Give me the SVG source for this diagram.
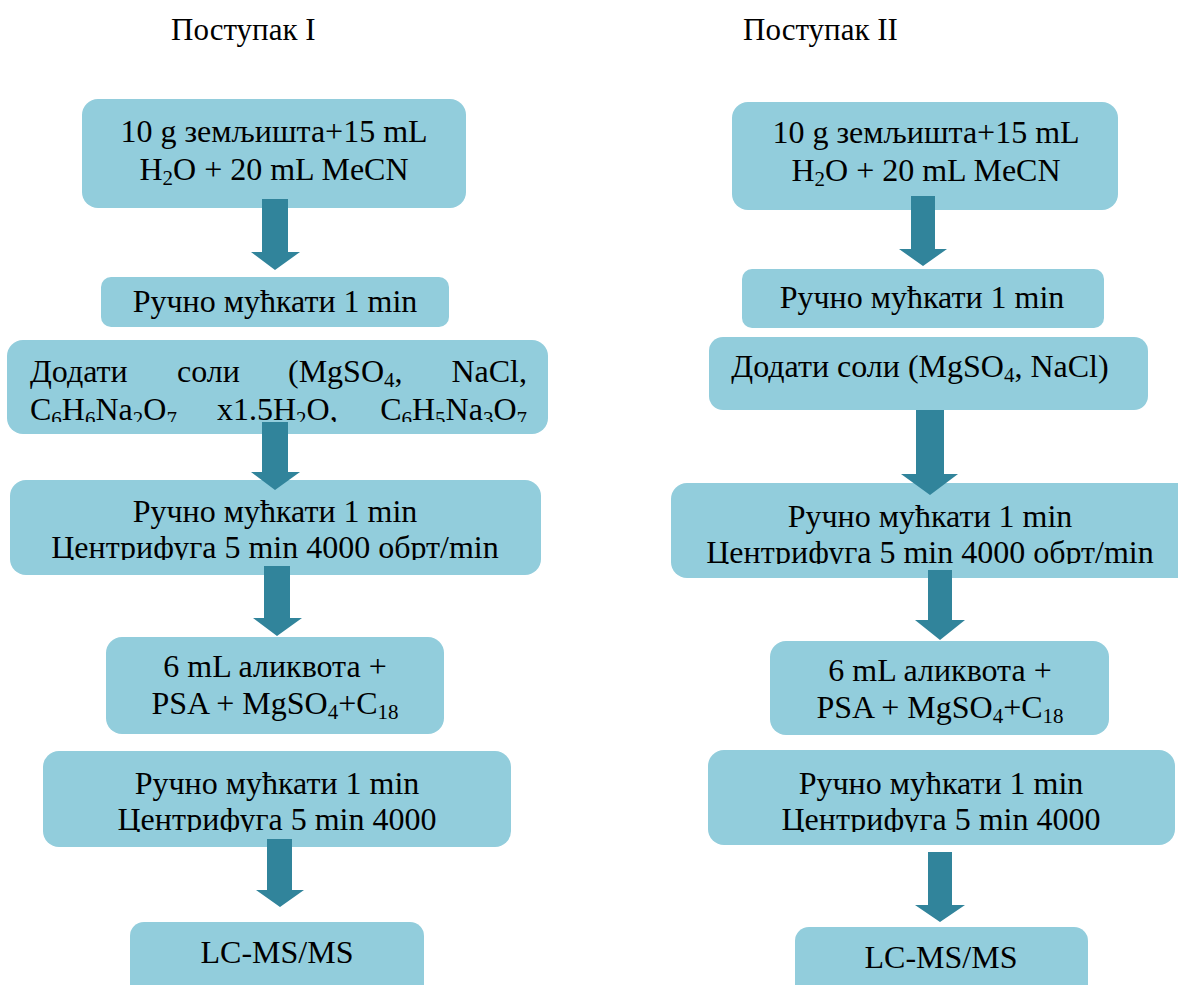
<svg xmlns="http://www.w3.org/2000/svg" width="1178" height="985" viewBox="0 0 1178 985">
<style>
.box{fill:#92CDDC}
.arr{fill:#31849B}
text{font-family:"Liberation Serif","Times New Roman",serif;font-size:32px;fill:#000}
.t{text-anchor:middle}
.ttl{font-size:31px}
.sub{font-size:21px}
</style>
<defs>
<clipPath id="cL3"><rect x="0" y="330" width="560" height="92"/></clipPath>
<clipPath id="cL4"><rect x="0" y="470" width="560" height="90"/></clipPath>
<clipPath id="cL6"><rect x="0" y="740" width="560" height="92"/></clipPath>
<clipPath id="cR4"><rect x="660" y="470" width="518" height="94"/></clipPath>
<clipPath id="cR6"><rect x="660" y="740" width="518" height="92"/></clipPath>
</defs>
<rect width="1178" height="985" fill="#fff"/>
<g id="title1"><text class="ttl" x="171" y="40">Поступак I</text></g>
<g id="title2"><text class="ttl" x="743" y="40">Поступак II</text></g>

<g id="L1"><rect class="box" x="82" y="99" width="384" height="109" rx="16"/>
<text class="t" x="274" y="142">10 g земљишта+15 mL</text>
<text class="t" x="274" y="180">H<tspan class="sub" dy="5">2</tspan><tspan dy="-5">O + 20 mL MeCN</tspan></text></g>
<g id="L2"><rect class="box" x="101" y="277" width="348" height="50" rx="10"/>
<text class="t" x="275" y="312">Ручно мућкати 1 min</text></g>
<g id="L3"><rect class="box" x="7" y="340" width="541" height="94" rx="16"/>
<g clip-path="url(#cL3)">
<text x="30" y="382">Додати</text>
<text x="177" y="382">соли</text>
<text x="288" y="382">(MgSO<tspan class="sub" dy="5">4</tspan><tspan dy="-5">,</tspan></text>
<text x="527" y="382" text-anchor="end">NaCl,</text>
<text x="30" y="420">C<tspan class="sub" dy="6">6</tspan><tspan dy="-6">H</tspan><tspan class="sub" dy="6">6</tspan><tspan dy="-6">Na</tspan><tspan class="sub" dy="6">2</tspan><tspan dy="-6">O</tspan><tspan class="sub" dy="6">7</tspan></text>
<text x="217" y="420">x1.5H<tspan class="sub" dy="6">2</tspan><tspan dy="-6">O,</tspan></text>
<text x="527" y="420" text-anchor="end">C<tspan class="sub" dy="6">6</tspan><tspan dy="-6">H</tspan><tspan class="sub" dy="6">5</tspan><tspan dy="-6">Na</tspan><tspan class="sub" dy="6">3</tspan><tspan dy="-6">O</tspan><tspan class="sub" dy="6">7</tspan></text>
</g></g>
<g id="L4"><rect class="box" x="10" y="480" width="531" height="95" rx="16"/>
<g clip-path="url(#cL4)">
<text class="t" x="275" y="522">Ручно мућкати 1 min</text>
<text class="t" x="275" y="558">Центрифуга 5 min 4000 обрт/min</text></g></g>
<g id="L5"><rect class="box" x="106" y="637" width="338" height="97" rx="16"/>
<text class="t" x="275" y="677">6 mL аликвота +</text>
<text class="t" x="275" y="714">PSA + MgSO<tspan class="sub" dy="5">4</tspan><tspan dy="-5">+C</tspan><tspan class="sub" dy="5">18</tspan></text></g>
<g id="L6"><rect class="box" x="43" y="751" width="468" height="96" rx="16"/>
<g clip-path="url(#cL6)">
<text class="t" x="277" y="794">Ручно мућкати 1 min</text>
<text class="t" x="277" y="830">Центрифуга 5 min 4000</text></g></g>
<g id="L7"><rect class="box" x="130" y="922" width="294" height="90" rx="14"/>
<text class="t" x="277" y="963">LC-MS/MS</text></g>

<g id="R1"><rect class="box" x="732" y="102" width="386" height="108" rx="16"/>
<text class="t" x="926" y="143">10 g земљишта+15 mL</text>
<text class="t" x="926" y="181">H<tspan class="sub" dy="5">2</tspan><tspan dy="-5">O + 20 mL MeCN</tspan></text></g>
<g id="R2"><rect class="box" x="742" y="269" width="362" height="59" rx="10"/>
<text class="t" x="922" y="308">Ручно мућкати 1 min</text></g>
<g id="R3"><rect class="box" x="709" y="337" width="439" height="73" rx="14"/>
<text class="t" x="920" y="377">Додати соли (MgSO<tspan class="sub" dy="5">4</tspan><tspan dy="-5">, NaCl)</tspan></text></g>
<g id="R4"><rect class="box" x="671" y="483" width="530" height="95" rx="16"/>
<g clip-path="url(#cR4)">
<text class="t" x="930" y="527">Ручно мућкати 1 min</text>
<text class="t" x="930" y="563">Центрифуга 5 min 4000 обрт/min</text></g></g>
<g id="R5"><rect class="box" x="770" y="641" width="339" height="94" rx="16"/>
<text class="t" x="940" y="681">6 mL аликвота +</text>
<text class="t" x="940" y="718">PSA + MgSO<tspan class="sub" dy="5">4</tspan><tspan dy="-5">+C</tspan><tspan class="sub" dy="5">18</tspan></text></g>
<g id="R6"><rect class="box" x="708" y="750" width="467" height="95" rx="16"/>
<g clip-path="url(#cR6)">
<text class="t" x="941" y="794">Ручно мућкати 1 min</text>
<text class="t" x="941" y="830">Центрифуга 5 min 4000</text></g></g>
<g id="R7"><rect class="box" x="795" y="927" width="293" height="90" rx="14"/>
<text class="t" x="941" y="968">LC-MS/MS</text></g>

<g id="connectors">
<polygon class="arr" points="262,199 288,199 288,252 300,252 275,270 251,252 262,252"/>
<polygon class="arr" points="262,422 288,422 288,472 300,472 275,490 251,472 262,472"/>
<polygon class="arr" points="264,566 290,566 290,618 302,618 277,636 253,618 264,618"/>
<polygon class="arr" points="267,839 292,839 292,890 304,890 280,907 256,890 267,890"/>
<polygon class="arr" points="911,196 935,196 935,249 947,249 923,266 899,249 911,249"/>
<polygon class="arr" points="916,410 944,410 944,474 958,474 930,495 901,474 916,474"/>
<polygon class="arr" points="928,570 952,570 952,620 965,620 940,640 915,620 928,620"/>
<polygon class="arr" points="928,852 952,852 952,905 965,905 940,922 915,905 928,905"/>
</g>
</svg>
